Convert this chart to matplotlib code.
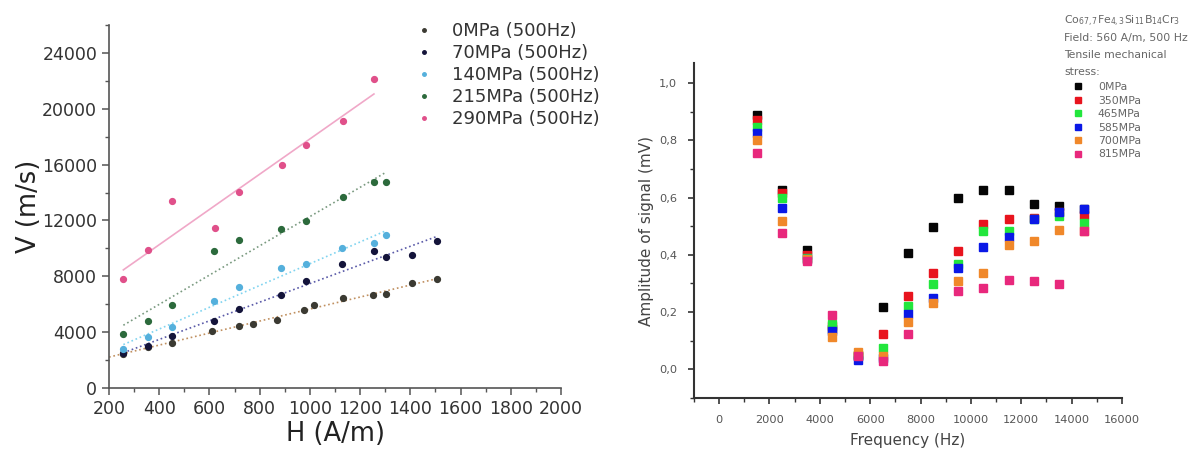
import numpy as np
import matplotlib
matplotlib.use("Agg")
import matplotlib.pyplot as plt
from matplotlib.ticker import MultipleLocator, FuncFormatter

plt.rcParams['font.family'] = ['DejaVu Sans']

# left panel: velocity vs field, one series per tensile stress
h_0 = [257, 357, 450, 611, 716, 773, 869, 975, 1015, 1130, 1252, 1302, 1405, 1505]
v_0 = [2450, 2950, 3220, 4080, 4420, 4560, 4870, 5580, 5950, 6420, 6680, 6750, 7500, 7780]
h_70 = [257, 357, 450, 619, 719, 886, 986, 1129, 1255, 1302, 1405, 1505]
v_70 = [2500, 2980, 3750, 4800, 5680, 6680, 7680, 8900, 9830, 9380, 9500, 10560]
h_140 = [257, 357, 450, 619, 719, 886, 986, 1129, 1255, 1302]
v_140 = [2800, 3650, 4350, 6250, 7200, 8600, 8900, 10000, 10380, 10980]
h_215 = [257, 357, 450, 619, 719, 886, 986, 1130, 1255, 1305]
v_215 = [3870, 4800, 5950, 9820, 10580, 11400, 11950, 13650, 14720, 14720]
h_290 = [257, 357, 450, 622, 719, 890, 986, 1130, 1255]
v_290 = [7800, 9870, 13380, 11430, 14020, 15970, 17430, 19100, 22100]
fit_from = [200, 257, 257, 257, 257]
left_labels = ['0MPa (500Hz)', '70MPa (500Hz)', '140MPa (500Hz)',
               '215MPa (500Hz)', '290MPa (500Hz)']

# right panel: amplitude vs frequency
freq = [1500, 2500, 3500, 4500, 5500, 6500, 7500, 8500, 9500, 10500, 11500, 12500, 13500, 14500]
amp_0 = [0.889, 0.628, 0.417, 0.14, 0.045, 0.217, 0.405, 0.497, 0.597, 0.627, 0.627, 0.576, 0.569, 0.56]
amp_350 = [0.87, 0.615, 0.40, 0.15, 0.05, 0.125, 0.258, 0.336, 0.415, 0.506, 0.526, 0.53, 0.55, 0.538]
amp_465 = [0.848, 0.60, 0.39, 0.157, 0.05, 0.075, 0.22, 0.297, 0.369, 0.485, 0.483, 0.525, 0.534, 0.511]
amp_585 = [0.826, 0.565, 0.385, 0.134, 0.033, 0.04, 0.194, 0.25, 0.355, 0.427, 0.462, 0.526, 0.548, 0.561]
amp_700 = [0.80, 0.517, 0.385, 0.114, 0.06, 0.046, 0.164, 0.233, 0.307, 0.336, 0.435, 0.447, 0.488, 0.485]
amp_815 = [0.756, 0.477, 0.378, 0.19, 0.046, 0.029, 0.125, np.nan, 0.273, 0.285, 0.311, 0.308, 0.297, 0.485]
right_labels = ['0MPa', '350MPa', '465MPa', '585MPa', '700MPa', '815MPa']

fig = plt.figure(figsize=(12.01, 4.59), dpi=100)

# ---- left chart ----
ax1 = fig.add_axes([0.0908, 0.1547, 0.3763, 0.7908])
left_series = [(h_0, v_0), (h_70, v_70), (h_140, v_140), (h_215, v_215), (h_290, v_290)]
dot_colors = ['#3b3a32', '#14143a', '#55b0dc', '#2c6a3c', '#e0508a']
fit_colors = ['#c09060', '#5a5aa8', '#80d4f0', '#7a9a80', '#f0a8c8']
fit_styles = [':', ':', ':', ':', '-']

handles = []
for (h, v), dc, fc, ls, x0, lab in zip(left_series, dot_colors, fit_colors,
                                        fit_styles, fit_from, left_labels):
    k, b = np.polyfit(h, v, 1)
    xs = np.array([x0, max(h)])
    ax1.plot(xs, k * xs + b, ls, color=fc, lw=1.2, zorder=1)
    p, = ax1.plot(h, v, 'o', color=dc, ms=4.2, mec=dc, zorder=3, label=lab)
    handles.append(p)

ax1.set_xlim(200, 2000)
ax1.set_ylim(0, 26000)
ax1.xaxis.set_major_locator(MultipleLocator(200))
ax1.xaxis.set_minor_locator(MultipleLocator(100))
ax1.yaxis.set_major_locator(MultipleLocator(4000))
ax1.yaxis.set_minor_locator(MultipleLocator(2000))
ax1.set_yticks(np.arange(0, 24001, 4000))
for s in ['top', 'right']:
    ax1.spines[s].set_visible(False)
for s in ['left', 'bottom']:
    ax1.spines[s].set_color('#555555')
    ax1.spines[s].set_linewidth(1.2)
ax1.tick_params(which='both', direction='out', colors='#555555', labelcolor='#333333',
                labelsize=12.5)
ax1.tick_params(which='major', length=5, width=1.1)
ax1.tick_params(which='minor', length=3, width=1.0)
ax1.set_xlabel('H (A/m)', fontsize=18.5, color='#222222', labelpad=2)
ax1.set_ylabel('V (m/s)', fontsize=18.5, color='#222222', labelpad=0)
ax1.legend(handles=handles, loc='upper left', bbox_to_anchor=(415 / 1201, 0.951),
           bbox_transform=fig.transFigure, frameon=False, fontsize=13,
           handlelength=1.0, handletextpad=1.05, labelspacing=0.22,
           borderpad=0, borderaxespad=0, numpoints=1, markerscale=0.6,
           labelcolor='#333333')

# ---- right chart ----
ax2 = fig.add_axes([0.5778, 0.1329, 0.3564, 0.7298])
amps = [amp_0, amp_350, amp_465, amp_585, amp_700, amp_815]
sq_colors = ['#050505', '#e8141e', '#22e63c', '#0a18e6', '#f0882a', '#e8287c']
handles2 = []
for a, c, lab in zip(amps, sq_colors, right_labels):
    p, = ax2.plot(freq, a, 's', color=c, ms=5.2, mec=c, label=lab)
    handles2.append(p)

ax2.set_xlim(-1000, 16000)
ax2.set_ylim(-0.1, 1.07)
ax2.xaxis.set_major_locator(MultipleLocator(2000))
ax2.xaxis.set_minor_locator(MultipleLocator(1000))
ax2.set_xticks(np.arange(0, 16001, 2000))
ax2.set_yticks(np.arange(0, 1.01, 0.2))
ax2.yaxis.set_minor_locator(MultipleLocator(0.1))
ax2.yaxis.set_major_formatter(FuncFormatter(lambda v, pos: f'{v:.1f}'.replace('.', ',')))
for s in ['top', 'right']:
    ax2.spines[s].set_visible(False)
for s in ['left', 'bottom']:
    ax2.spines[s].set_color('#333333')
    ax2.spines[s].set_linewidth(1.5)
ax2.tick_params(which='both', direction='out', colors='#333333', labelcolor='#555555',
                labelsize=8.2)
ax2.tick_params(which='major', length=4, width=1.2, pad=8)
ax2.tick_params(which='minor', length=3, width=1.0)
ax2.set_xlabel('Frequency (Hz)', fontsize=11, color='#444444', labelpad=6)
ax2.set_ylabel('Amplitude of signal (mV)', fontsize=11, color='#444444', labelpad=4)

title_lines = ['Co$_{67,7}$Fe$_{4,3}$Si$_{11}$B$_{14}$Cr$_{3}$',
               'Field: 560 A/m, 500 Hz', 'Tensile mechanical', 'stress:']
for i, t in enumerate(title_lines):
    fig.text(1064 / 1201, 1 - (21 + 17 * i) / 459, t, fontsize=7.8, color='#666666',
             ha='left', va='center')
ax2.legend(handles=handles2, loc='upper left', bbox_to_anchor=(1073 / 1201, 0.821),
           bbox_transform=fig.transFigure, frameon=False, fontsize=7.8,
           handlelength=1.0, handletextpad=1.3, labelspacing=0.32,
           borderpad=0, borderaxespad=0, numpoints=1, markerscale=0.85,
           labelcolor='#666666')

fig.savefig('out.png', dpi=100)
